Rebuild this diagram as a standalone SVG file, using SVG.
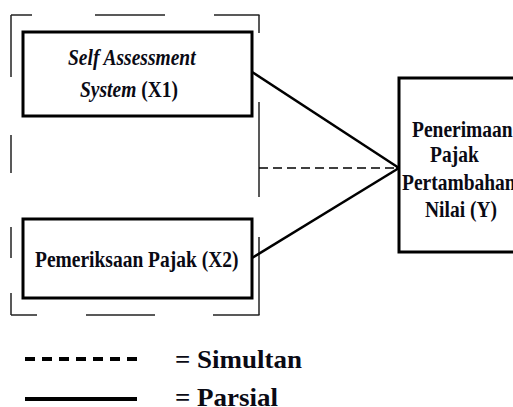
<svg xmlns="http://www.w3.org/2000/svg" width="513" height="407" viewBox="0 0 513 407">
<style>
.box{fill:#fff;stroke:#000;stroke-width:3}
.t{font-family:"Liberation Serif","Times New Roman",serif;font-weight:bold;font-size:19.5px;fill:#0a0a14}
.i{font-style:italic}
.frame{stroke:#222;stroke-width:1.5;fill:none}
.solid{stroke:#000;stroke-width:2.5;fill:none}
.dash{stroke:#000;stroke-width:1.5;stroke-dasharray:9 5;fill:none}
.leg{font-family:"Liberation Serif","Times New Roman",serif;font-weight:bold;font-size:25px;fill:#0a0a14}
</style>
<defs>
<marker id="arr" markerWidth="10" markerHeight="14" refX="8" refY="7" orient="auto" markerUnits="userSpaceOnUse">
<path d="M2,1 L8,7 L2,13" fill="none" stroke="#333" stroke-width="1"/>
</marker>
</defs>
<rect width="513" height="407" fill="#fff"/>
<g id="frame" class="frame">
<line x1="11" y1="15" x2="32" y2="15"/>
<line x1="95" y1="15" x2="165" y2="15"/>
<line x1="214" y1="15" x2="259.5" y2="15"/>
<line x1="11" y1="15" x2="11" y2="77"/>
<line x1="11" y1="135" x2="11" y2="173"/>
<line x1="11" y1="227" x2="11" y2="258"/>
<line x1="11" y1="293" x2="11" y2="315"/>
<line x1="259" y1="15" x2="259" y2="33"/>
<line x1="259" y1="102" x2="259" y2="197"/>
<line x1="259" y1="237" x2="259" y2="315"/>
<line x1="11" y1="315" x2="37" y2="315"/>
<line x1="86" y1="315" x2="155" y2="315"/>
<line x1="213" y1="315" x2="259.5" y2="315"/>
</g>
<g id="connectors">
<line class="dash" x1="259" y1="168" x2="397" y2="168" marker-end="url(#arr)"/>
<line class="solid" x1="252" y1="72" x2="399" y2="168"/>
<line class="solid" x1="252" y1="258" x2="399" y2="168"/>
</g>
<g id="x1">
<rect class="box" x="23" y="32" width="229" height="84"/>
<text class="t i" transform="translate(68,65) scale(1,1.15)">Self Assessment</text>
<text class="t" transform="translate(80,97) scale(1,1.15)"><tspan class="i">System</tspan> (X1)</text>
</g>
<g id="x2">
<rect class="box" x="23" y="219" width="229" height="79"/>
<text class="t" transform="translate(35,267) scale(1,1.15)">Pemeriksaan Pajak (X2)</text>
</g>
<g id="y">
<rect class="box" x="399" y="78" width="130" height="174"/>
<text class="t" transform="translate(412,137) scale(1,1.15)">Penerimaan</text>
<text class="t" transform="translate(430,162) scale(1,1.15)">Pajak</text>
<text class="t" transform="translate(402,190) scale(1,1.15)">Pertambahan</text>
<text class="t" transform="translate(425,217) scale(1,1.15)">Nilai (Y)</text>
</g>
<g id="legend">
<line x1="25" y1="359" x2="137" y2="359" stroke="#000" stroke-width="4" stroke-dasharray="10 7"/>
<text class="leg" transform="translate(175,368) scale(1.08,1)">= Simultan</text>
<line x1="25" y1="399" x2="137" y2="399" stroke="#000" stroke-width="4"/>
<text class="leg" transform="translate(175,406) scale(1.08,1)">= Parsial</text>
</g>
</svg>
